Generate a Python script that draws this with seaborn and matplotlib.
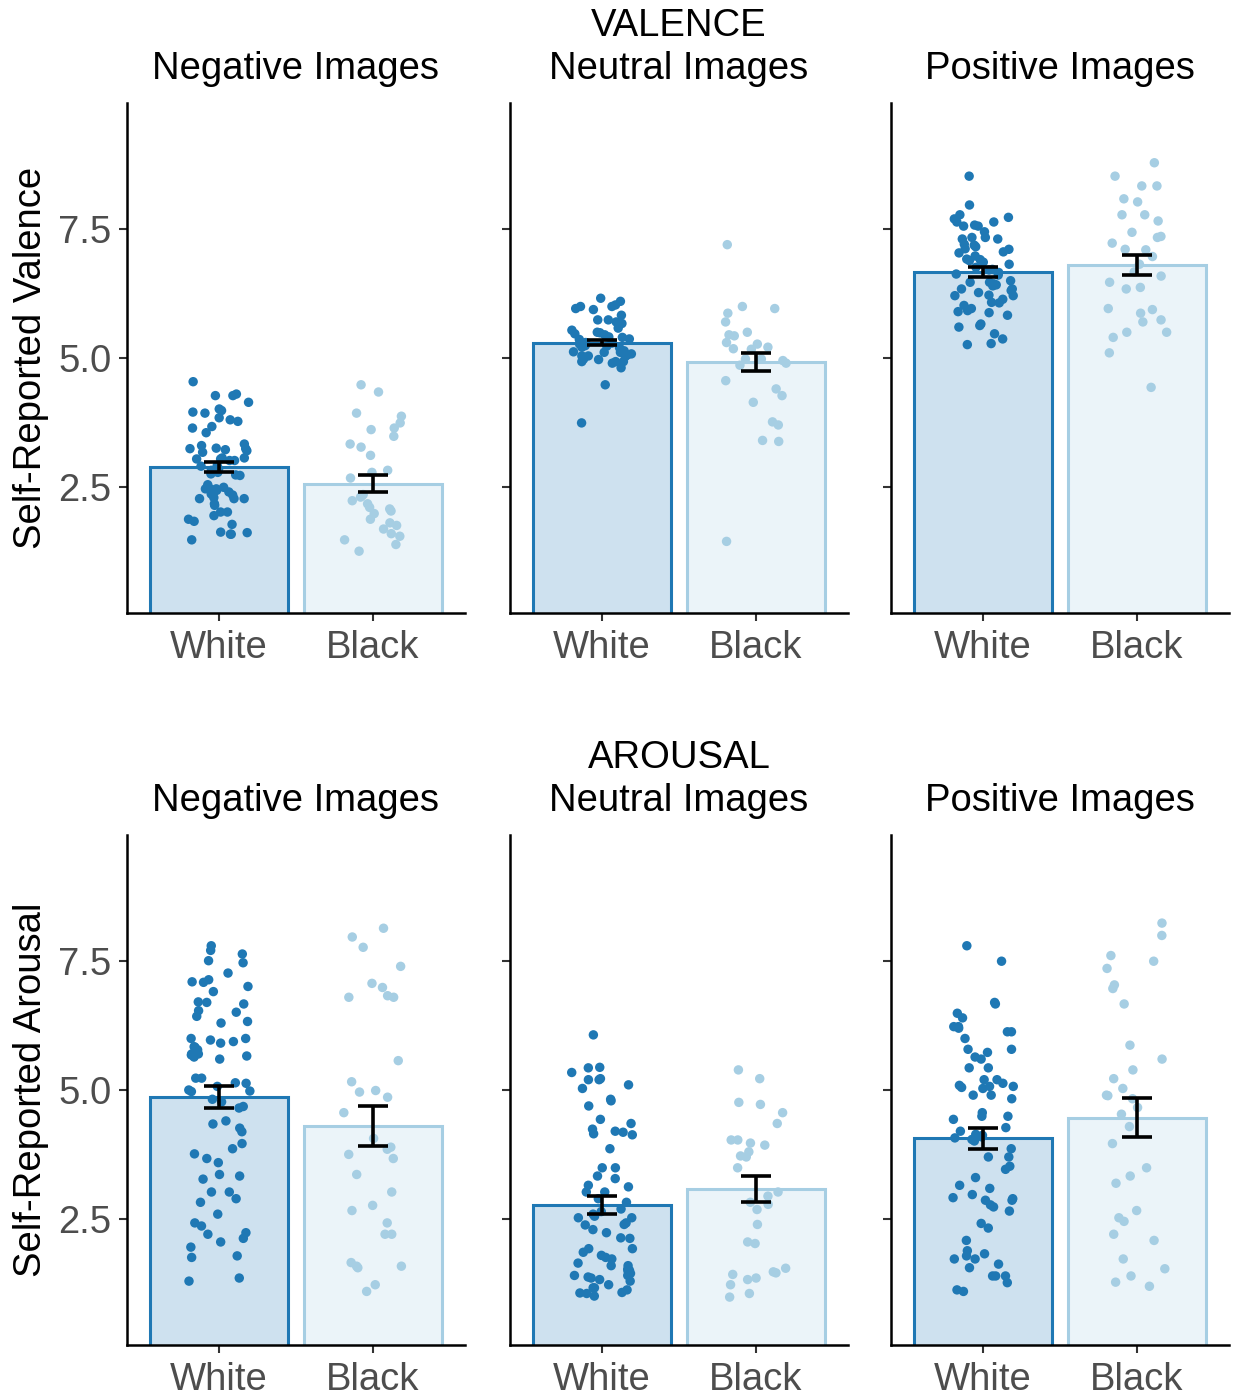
import numpy as np
import pandas as pd
import matplotlib
matplotlib.use("Agg")
import matplotlib.pyplot as plt
import seaborn as sns

# ---------------- data ----------------
groups = ["White", "Black"]
image_types = ["Negative Images", "Neutral Images", "Positive Images"]
measures = ["VALENCE", "AROUSAL"]
y_labels = ["Self-Reported Valence", "Self-Reported Arousal"]
y_ticks = [2.5, 5.0, 7.5]
y_tick_labels = ["2.5", "5.0", "7.5"]

# individual participant ratings
valence_negative_white = [4.54, 4.30, 4.27, 4.27, 4.14, 3.98, 4.01, 3.95, 3.93, 3.84, 3.80, 3.77,
                          3.67, 3.64, 3.55, 3.33, 3.30, 3.25, 3.24, 3.24, 3.22, 3.20, 3.17, 3.06,
                          3.06, 3.04, 3.04, 3.01, 3.01, 2.91, 2.90, 2.85, 2.82, 2.78, 2.75, 2.72,
                          2.73, 2.54, 2.49, 2.46, 2.46, 2.46, 2.40, 2.36, 2.43, 2.34, 2.29, 2.27,
                          2.27, 2.27, 2.17, 2.14, 2.01, 2.01, 1.94, 1.87, 1.83, 1.77, 1.62, 1.58,
                          1.61, 1.58, 1.47]
valence_negative_black = [4.48, 4.34, 3.93, 3.87, 3.74, 3.64, 3.61, 3.48, 3.33, 3.27, 3.11, 2.82,
                          2.78, 2.67, 2.35, 2.33, 2.30, 2.23, 2.17, 2.10, 2.07, 2.03, 1.98, 1.87,
                          1.80, 1.75, 1.68, 1.59, 1.54, 1.47, 1.38, 1.25]
valence_neutral_white = [6.16, 6.10, 6.03, 6.00, 6.00, 5.96, 5.94, 5.83, 5.74, 5.74, 5.70, 5.67,
                         5.58, 5.54, 5.50, 5.49, 5.47, 5.45, 5.41, 5.40, 5.37, 5.36, 5.30, 5.29,
                         5.27, 5.24, 5.23, 5.21, 5.20, 5.14, 5.12, 5.11, 5.11, 5.08, 5.04, 5.04,
                         5.03, 5.06, 4.98, 4.97, 4.93, 4.93, 4.93, 4.90, 4.81, 4.48, 3.74]
valence_neutral_black = [7.20, 6.00, 5.96, 5.87, 5.70, 5.50, 5.45, 5.43, 5.30, 5.27, 5.21, 5.17,
                         5.18, 4.98, 4.98, 4.95, 4.90, 4.86, 4.56, 4.40, 4.27, 4.14, 3.76, 3.70,
                         3.40, 3.38, 1.44]
valence_positive_white = [8.53, 7.97, 7.78, 7.73, 7.70, 7.64, 7.64, 7.58, 7.56, 7.56, 7.45, 7.34,
                          7.34, 7.31, 7.31, 7.21, 7.19, 7.16, 7.12, 7.11, 7.06, 7.04, 6.98, 6.92,
                          6.91, 6.89, 6.86, 6.82, 6.76, 6.72, 6.71, 6.66, 6.63, 6.61, 6.50, 6.47,
                          6.47, 6.44, 6.42, 6.40, 6.34, 6.34, 6.31, 6.27, 6.22, 6.21, 6.21, 6.14,
                          6.08, 6.07, 6.02, 5.96, 5.92, 5.88, 5.90, 5.83, 5.66, 5.63, 5.60, 5.47,
                          5.37, 5.28, 5.26]
valence_positive_black = [8.79, 8.53, 8.34, 8.34, 8.09, 8.03, 7.78, 7.78, 7.66, 7.44, 7.36, 7.34,
                          7.23, 7.10, 7.11, 6.97, 6.82, 6.67, 6.59, 6.47, 6.37, 6.34, 5.96, 5.94,
                          5.87, 5.74, 5.70, 5.50, 5.50, 5.40, 5.10, 4.43]

arousal_negative_white = [7.80, 7.71, 7.64, 7.51, 7.47, 7.27, 7.14, 7.10, 7.09, 7.01, 6.91, 6.71,
                          6.70, 6.67, 6.54, 6.51, 6.43, 6.33, 6.30, 6.00, 6.00, 5.97, 5.94, 5.91,
                          5.84, 5.83, 5.78, 5.70, 5.70, 5.68, 5.66, 5.64, 5.60, 5.23, 5.23, 5.14,
                          5.13, 5.07, 5.00, 4.98, 4.97, 4.82, 4.77, 4.68, 4.65, 4.40, 4.34, 4.26,
                          4.19, 3.96, 3.86, 3.76, 3.67, 3.59, 3.36, 3.33, 3.27, 3.02, 3.02, 2.89,
                          2.82, 2.59, 2.42, 2.36, 2.23, 2.20, 2.12, 2.05, 1.95, 1.78, 1.75, 1.35,
                          1.29]
arousal_negative_black = [8.14, 7.97, 7.77, 7.40, 7.07, 6.99, 6.83, 6.80, 6.80, 5.57, 5.16, 4.99,
                          4.96, 4.86, 4.56, 4.06, 3.89, 3.85, 3.75, 3.67, 3.36, 3.02, 2.76, 2.66,
                          2.42, 2.20, 2.20, 1.58, 1.55, 1.58, 1.65, 1.22, 1.09]
arousal_neutral_white = [6.07, 5.44, 5.43, 5.34, 5.22, 5.20, 5.20, 5.10, 5.03, 4.82, 4.79, 4.69,
                         4.43, 4.35, 4.24, 4.20, 4.18, 4.15, 4.13, 3.86, 3.49, 3.49, 3.33, 3.28,
                         3.15, 3.12, 3.02, 3.02, 2.89, 2.82, 2.69, 2.64, 2.59, 2.55, 2.52, 2.52,
                         2.42, 2.39, 2.38, 2.29, 2.23, 2.13, 2.12, 1.92, 1.92, 1.85, 1.79, 1.75,
                         1.72, 1.64, 1.59, 1.59, 1.52, 1.50, 1.48, 1.44, 1.40, 1.40, 1.37, 1.35,
                         1.32, 1.29, 1.22, 1.16, 1.16, 1.12, 1.07, 1.06, 1.05, 1.00]
arousal_neutral_black = [5.39, 5.22, 4.76, 4.72, 4.56, 4.35, 4.03, 4.03, 3.97, 3.93, 3.80, 3.72,
                         3.70, 3.49, 3.02, 2.94, 2.82, 2.78, 2.68, 2.39, 2.05, 2.02, 1.54, 1.47,
                         1.45, 1.42, 1.35, 1.32, 1.22, 1.05, 0.98]
arousal_positive_white = [7.80, 7.50, 6.70, 6.67, 6.49, 6.40, 6.23, 6.23, 6.20, 6.13, 6.13, 6.00,
                          5.79, 5.79, 5.73, 5.64, 5.60, 5.43, 5.43, 5.20, 5.20, 5.13, 5.09, 5.07,
                          5.07, 5.05, 5.03, 4.90, 4.90, 4.83, 4.56, 4.49, 4.49, 4.43, 4.27, 4.20,
                          4.14, 4.12, 4.09, 4.07, 4.04, 4.01, 3.86, 3.70, 3.70, 3.52, 3.46, 3.30,
                          3.15, 3.09, 2.97, 2.91, 2.89, 2.86, 2.86, 2.77, 2.73, 2.65, 2.41, 2.32,
                          2.08, 1.88, 1.82, 1.78, 1.72, 1.72, 1.62, 1.55, 1.39, 1.39, 1.39, 1.26,
                          1.12, 1.09]
arousal_positive_black = [8.24, 8.00, 7.61, 7.50, 7.36, 7.04, 6.97, 6.67, 5.87, 5.60, 5.39, 5.22,
                          5.03, 4.90, 4.89, 4.83, 4.66, 4.53, 4.29, 3.96, 3.49, 3.33, 3.19, 2.66,
                          2.52, 2.45, 2.20, 2.08, 1.72, 1.53, 1.39, 1.27, 1.19]

# group means and standard errors (Negative, Neutral, Positive)
valence_mean_white = [2.88, 5.30, 6.67]
valence_mean_black = [2.56, 4.92, 6.80]
valence_se_white = [0.10, 0.05, 0.09]
valence_se_black = [0.16, 0.18, 0.19]
arousal_mean_white = [4.87, 2.77, 4.06]
arousal_mean_black = [4.30, 3.08, 4.46]
arousal_se_white = [0.21, 0.17, 0.20]
arousal_se_black = [0.39, 0.26, 0.38]

points = {
    ("VALENCE", 0): (valence_negative_white, valence_negative_black),
    ("VALENCE", 1): (valence_neutral_white, valence_neutral_black),
    ("VALENCE", 2): (valence_positive_white, valence_positive_black),
    ("AROUSAL", 0): (arousal_negative_white, arousal_negative_black),
    ("AROUSAL", 1): (arousal_neutral_white, arousal_neutral_black),
    ("AROUSAL", 2): (arousal_positive_white, arousal_positive_black),
}
summary = {
    "VALENCE": (valence_mean_white, valence_mean_black, valence_se_white, valence_se_black),
    "AROUSAL": (arousal_mean_white, arousal_mean_black, arousal_se_white, arousal_se_black),
}

# ---------------- style ----------------
sns.set_theme(style="ticks")
plt.rcParams["font.family"] = ["Liberation Sans", "DejaVu Sans"]

line_colors = {"White": "#1F78B4", "Black": "#A6CEE3"}
fill_alpha = 0.22
fill_colors = {}
for g, c in line_colors.items():
    rgb = np.array(matplotlib.colors.to_rgb(c))
    fill_colors[g] = tuple(1 - fill_alpha * (1 - rgb))

FS = 27.5
W, H = 1235, 1395
fig = plt.figure(figsize=(W / 100, H / 100), dpi=100)

col_left = [127, 510, 891]
ax_w = 338
row_box = [(103, 613), (835, 1345)]

np.random.seed(7)

for r, measure in enumerate(measures):
    top, bot = row_box[r]
    mw, mb, sw, sb = summary[measure]
    for c, itype in enumerate(image_types):
        ax = fig.add_axes([col_left[c] / W, 1 - bot / H, ax_w / W, (bot - top) / H])
        white_vals, black_vals = points[(measure, c)]
        df_pts = pd.DataFrame({
            "group": ["White"] * len(white_vals) + ["Black"] * len(black_vals),
            "value": list(white_vals) + list(black_vals),
        })
        df_bar = pd.DataFrame({"group": groups, "mean": [mw[c], mb[c]], "se": [sw[c], sb[c]]})

        sns.barplot(data=df_bar, x="group", y="mean", hue="group", order=groups,
                    hue_order=groups, palette=fill_colors, width=0.9, errorbar=None,
                    legend=False, ax=ax, linewidth=2.2)
        for patch, g in zip(ax.patches, groups):
            patch.set_edgecolor(line_colors[g])
            patch.set_facecolor(fill_colors[g])

        sns.stripplot(data=df_pts, x="group", y="value", hue="group", order=groups,
                      hue_order=groups, palette=line_colors, jitter=0.2, size=6.8,
                      linewidth=0, legend=False, ax=ax, zorder=3)

        ax.errorbar(x=[0, 1], y=df_bar["mean"], yerr=df_bar["se"], fmt="none",
                    ecolor="black", elinewidth=2.6, capsize=10.8, capthick=2.6, zorder=4)

        ax.set_xlim(-0.6, 1.6)
        ax.set_ylim(0.05, 9.95)
        ax.set_yticks(y_ticks)
        ax.set_xlabel("")
        if c == 0:
            ax.set_yticklabels(y_tick_labels)
            ax.set_ylabel(y_labels[r], fontsize=FS, color="black")
            ax.yaxis.set_label_coords(-0.232, 0.5)
        else:
            ax.set_yticklabels([])
            ax.set_ylabel("")
        ax.tick_params(axis="both", labelsize=FS, labelcolor="#4D4D4D", color="#333333",
                       width=1.5, length=6)
        ax.tick_params(axis="x", pad=6)
        ax.tick_params(axis="y", pad=5)
        for side in ["top", "right"]:
            ax.spines[side].set_visible(False)
        for side in ["left", "bottom"]:
            ax.spines[side].set_linewidth(1.8)
            ax.spines[side].set_color("black")

        title = f"{measure}\n{itype}" if c == 1 else itype
        ax.set_title(title, fontsize=FS, color="black", pad=17, linespacing=1.25)

fig.savefig("out.png", dpi=100, facecolor="white")
